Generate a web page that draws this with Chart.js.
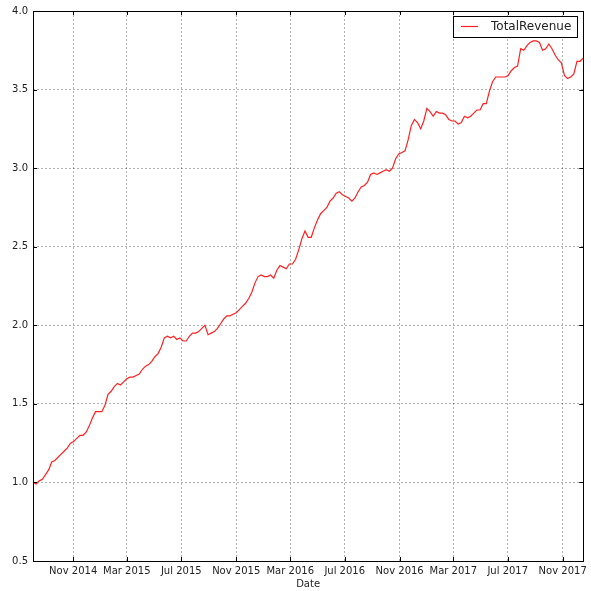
<!DOCTYPE html>
<html lang="en">
<head>
<meta charset="UTF-8">
<title>TotalRevenue</title>
<script src="https://cdn.jsdelivr.net/npm/chart.js"></script>
<style>
  body { margin: 0; background: #fff; }
  canvas { display: block; }
</style>
</head>
<body>
<canvas id="chart" width="591" height="591"></canvas>
<script>
// weekly series, first week starting on this date
var startDate = '2014-08-03';
var endDate = '2017-12-17';
var seriesLabel = 'TotalRevenue';

var totalRevenue = [
  1.00, 0.99, 1.01, 1.02, 1.05, 1.08, 1.13, 1.14, 1.16, 1.18,
  1.20, 1.22, 1.25, 1.26, 1.28, 1.30, 1.30, 1.32, 1.36, 1.41,
  1.45, 1.45, 1.45, 1.49, 1.56, 1.58, 1.61, 1.63, 1.62, 1.64,
  1.66, 1.67, 1.67, 1.68, 1.69, 1.72, 1.74, 1.75, 1.77, 1.80,
  1.82, 1.86, 1.92, 1.93, 1.92, 1.93, 1.91, 1.92, 1.90, 1.90,
  1.93, 1.95, 1.95, 1.96, 1.98, 2.00, 1.94, 1.95, 1.96, 1.98,
  2.01, 2.04, 2.06, 2.06, 2.07, 2.08, 2.10, 2.12, 2.14, 2.17,
  2.21, 2.27, 2.31, 2.32, 2.31, 2.31, 2.32, 2.30, 2.35, 2.38,
  2.37, 2.36, 2.39, 2.39, 2.42, 2.48, 2.55, 2.60, 2.56, 2.56,
  2.62, 2.67, 2.71, 2.73, 2.75, 2.79, 2.81, 2.84, 2.85, 2.83,
  2.82, 2.81, 2.79, 2.81, 2.85, 2.88, 2.89, 2.91, 2.96, 2.97,
  2.96, 2.97, 2.98, 2.99, 2.98, 3.00, 3.06, 3.09, 3.10, 3.11,
  3.18, 3.27, 3.31, 3.29, 3.25, 3.30, 3.38, 3.36, 3.33, 3.36,
  3.35, 3.35, 3.34, 3.31, 3.30, 3.30, 3.28, 3.29, 3.33, 3.32,
  3.33, 3.35, 3.37, 3.37, 3.41, 3.41, 3.49, 3.55, 3.58, 3.58,
  3.58, 3.58, 3.59, 3.62, 3.64, 3.65, 3.76, 3.75, 3.78, 3.80,
  3.81, 3.81, 3.80, 3.75, 3.76, 3.79, 3.76, 3.72, 3.69, 3.67,
  3.59, 3.57, 3.58, 3.60, 3.68, 3.68, 3.70
];

var tickDates = ['2014-11-01', '2015-03-01', '2015-07-01', '2015-11-01', '2016-03-01',
                 '2016-07-01', '2016-11-01', '2017-03-01', '2017-07-01', '2017-11-01'];
var tickLabels = ['Nov 2014', 'Mar 2015', 'Jul 2015', 'Nov 2015', 'Mar 2016',
                  'Jul 2016', 'Nov 2016', 'Mar 2017', 'Jul 2017', 'Nov 2017'];
var yTicks = [0.5, 1.0, 1.5, 2.0, 2.5, 3.0, 3.5, 4.0];

var WEEK = 7 * 24 * 3600 * 1000;
var t0 = Date.parse(startDate);
var points = totalRevenue.map(function (v, i) {
  return { x: t0 + i * WEEK, y: v };
});

var font = "'DejaVu Sans', sans-serif";
Chart.defaults.font.family = font;
Chart.defaults.font.size = 10;
Chart.defaults.color = '#222';

// matplotlib-like frame, inward ticks and legend inside the axes
var framePlugin = {
  id: 'frame',
  afterDraw: function (chart) {
    var ctx = chart.ctx, a = chart.chartArea;
    var xs = chart.scales.x, ys = chart.scales.y;
    ctx.save();
    ctx.strokeStyle = '#000';
    ctx.lineWidth = 1;
    ctx.beginPath();
    xs.ticks.forEach(function (t) {
      var px = Math.round(xs.getPixelForValue(t.value)) + 0.5;
      ctx.moveTo(px, a.bottom); ctx.lineTo(px, a.bottom - 4);
      ctx.moveTo(px, a.top); ctx.lineTo(px, a.top + 4);
    });
    ys.ticks.forEach(function (t) {
      var py = Math.round(ys.getPixelForValue(t.value)) + 0.5;
      ctx.moveTo(a.left, py); ctx.lineTo(a.left + 4, py);
      ctx.moveTo(a.right, py); ctx.lineTo(a.right - 4, py);
    });
    ctx.stroke();
    ctx.strokeRect(Math.round(a.left) + 0.5, Math.round(a.top) + 0.5,
                   Math.round(a.right - a.left), Math.round(a.bottom - a.top));

    // legend
    var ds = chart.data.datasets[0];
    ctx.font = '12px ' + font;
    var bx = 453.5, by = 16.5, bw = 124, bh = 21;
    ctx.fillStyle = '#fff';
    ctx.fillRect(bx, by, bw, bh);
    ctx.strokeStyle = '#000';
    ctx.strokeRect(bx, by, bw, bh);
    ctx.strokeStyle = ds.borderColor;
    ctx.lineWidth = ds.borderWidth;
    ctx.beginPath();
    ctx.moveTo(461, 26.5); ctx.lineTo(478, 26.5);
    ctx.stroke();
    ctx.fillStyle = '#222';
    ctx.textBaseline = 'middle';
    ctx.textAlign = 'left';
    ctx.fillText(ds.label, 491, 27);
    ctx.restore();
  }
};

new Chart(document.getElementById('chart'), {
  type: 'line',
  data: {
    datasets: [{
      label: seriesLabel,
      data: points,
      borderColor: '#ff2020',
      borderWidth: 1.2,
      pointRadius: 0,
      tension: 0,
      fill: false
    }]
  },
  options: {
    responsive: false,
    animation: false,
    devicePixelRatio: 1,
    layout: { padding: { top: 10, right: 7, left: 0, bottom: 0 } },
    plugins: {
      legend: { display: false },
      tooltip: { enabled: false }
    },
    scales: {
      x: {
        type: 'linear',
        min: Date.parse(startDate),
        max: Date.parse(endDate),
        afterBuildTicks: function (s) {
          s.ticks = tickDates.map(function (d) { return { value: Date.parse(d) }; });
        },
        afterFit: function (s) { s.height = 30; },
        ticks: {
          autoSkip: false,
          maxRotation: 0,
          padding: 4,
          callback: function (v, i) { return tickLabels[i]; }
        },
        grid: {
          drawTicks: false,
          color: 'rgba(0,0,0,0.3)',
          lineWidth: 1
        },
        border: { display: false, dash: [2, 2] },
        title: { display: true, text: 'Date', padding: { top: 0, bottom: 1 } }
      },
      y: {
        min: 0.5,
        max: 4.0,
        afterBuildTicks: function (s) {
          s.ticks = yTicks.map(function (v) { return { value: v }; });
        },
        afterFit: function (s) { s.width = 33; },
        ticks: {
          padding: 5,
          callback: function (v) { return v.toFixed(1); }
        },
        grid: {
          drawTicks: false,
          color: 'rgba(0,0,0,0.3)',
          lineWidth: 1
        },
        border: { display: false, dash: [2, 2] }
      }
    }
  },
  plugins: [framePlugin]
});
</script>
</body>
</html>
